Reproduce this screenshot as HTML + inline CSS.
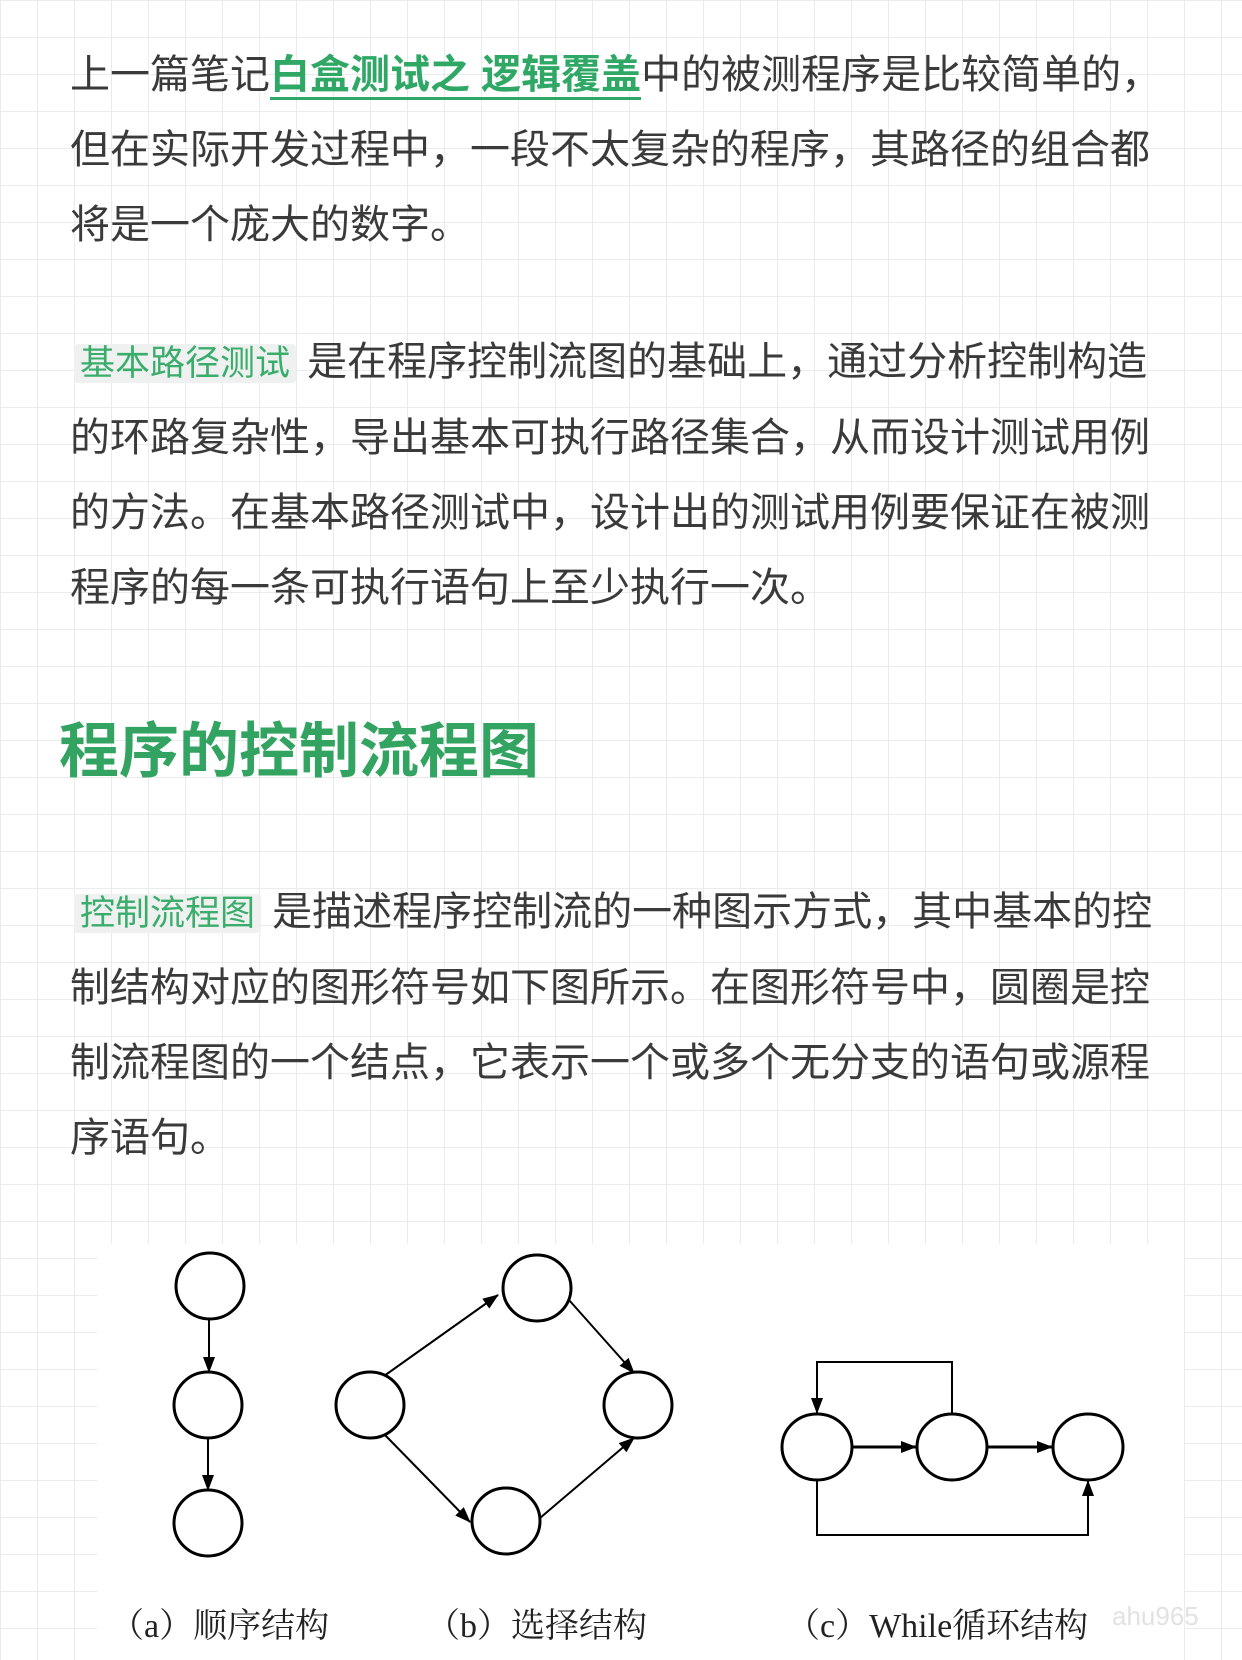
<!DOCTYPE html>
<html><head><meta charset="utf-8"><style>
body{margin:0;width:1242px;height:1660px;overflow:hidden;background-color:#fff;
background-image:linear-gradient(#e9ecea 1px,transparent 1px),linear-gradient(90deg,#e9ecea 1px,transparent 1px);background-size:37px 37px;
font-family:"Liberation Sans","Noto Sans CJK SC",sans-serif;color:#3a3a3a;position:relative}
.p{position:absolute;left:70px;font-size:40px;line-height:75px;white-space:nowrap;margin:0}
.lk{color:#2fa866;font-weight:bold;border-bottom:3px solid #2fa866}
.tag{color:#3aad6c;background:#eef1ef;padding:0 6px;margin-left:4px;border-radius:4px;font-size:35px}
h2{position:absolute;left:59px;top:712px;margin:0;font-size:60px;color:#32a360;font-weight:bold;line-height:80px}
</style></head><body>
<div class="p" style="top:38px">上一篇笔记<span class="lk">白盒测试之 逻辑覆盖</span>中的被测程序是比较简单的，<br>但在实际开发过程中，一段不太复杂的程序，其路径的组合都<br>将是一个庞大的数字。</div>
<div class="p" style="top:325px"><span class="tag">基本路径测试</span> 是在程序控制流图的基础上，通过分析控制构造<br>的环路复杂性，导出基本可执行路径集合，从而设计测试用例<br>的方法。在基本路径测试中，设计出的测试用例要保证在被测<br>程序的每一条可执行语句上至少执行一次。</div>
<h2>程序的控制流程图</h2>
<div class="p" style="top:875px"><span class="tag">控制流程图</span> 是描述程序控制流的一种图示方式，其中基本的控<br>制结构对应的图形符号如下图所示。在图形符号中，圆圈是控<br>制流程图的一个结点，它表示一个或多个无分支的语句或源程<br>序语句。</div>
<svg style="position:absolute;left:0;top:0" width="1242" height="1660">
<defs><marker id="a" markerWidth="16" markerHeight="14" refX="15" refY="7" orient="auto" markerUnits="userSpaceOnUse"><path d="M0,1 L16,7 L0,13 Z" fill="#000"/></marker></defs>
<rect x="97" y="1244" width="1087" height="416" fill="#fff"/>
<g fill="none" stroke="#000" stroke-width="3">
<ellipse cx="210" cy="1286" rx="34" ry="33"/><ellipse cx="208" cy="1405" rx="34" ry="33"/><ellipse cx="208" cy="1523" rx="34" ry="33"/>
<ellipse cx="370" cy="1405" rx="34" ry="33"/><ellipse cx="537" cy="1288" rx="34" ry="33"/><ellipse cx="638" cy="1405" rx="34" ry="33"/><ellipse cx="506" cy="1521" rx="34" ry="33"/>
<ellipse cx="817" cy="1447" rx="35" ry="33"/><ellipse cx="952" cy="1447" rx="35" ry="33"/><ellipse cx="1088" cy="1447" rx="35" ry="33"/>
</g>
<g fill="none" stroke="#000" stroke-width="2" marker-end="url(#a)">
<line x1="209" y1="1319" x2="209" y2="1372"/><line x1="208" y1="1438" x2="208" y2="1490"/>
<line x1="384" y1="1376" x2="498" y2="1295"/><line x1="569" y1="1300" x2="634" y2="1373"/>
<line x1="384" y1="1434" x2="470" y2="1522"/><line x1="540" y1="1518" x2="634" y2="1438"/>
<line x1="852" y1="1447" x2="916" y2="1447" stroke-width="3"/><line x1="987" y1="1447" x2="1052" y2="1447" stroke-width="3"/>
<polyline points="952,1414 952,1362 817,1362 817,1413"/>
<polyline points="817,1480 817,1535 1088,1535 1088,1481"/>
</g>
<g font-family="'Liberation Serif','Noto Serif CJK SC',serif" font-size="34" fill="#222">
<text x="110" y="1637">（a）顺序结构</text><text x="426" y="1637">（b）选择结构</text><text x="786" y="1637">（c）While循环结构</text>
</g>
<text x="1112" y="1625" font-size="26" fill="#e2e2e2" font-family="Liberation Sans,sans-serif">ahu965</text>
</svg>
</body></html>
